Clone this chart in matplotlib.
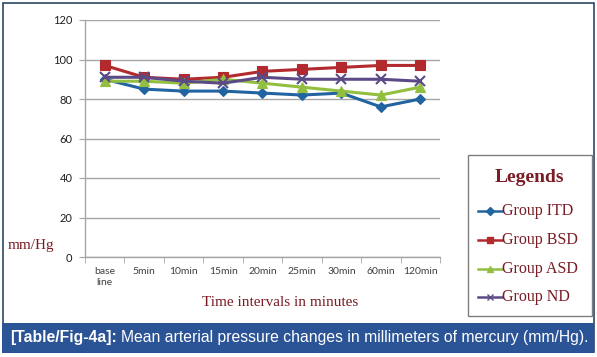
import matplotlib
matplotlib.use("Agg")
import matplotlib.pyplot as plt
from matplotlib.lines import Line2D
from matplotlib.patches import Rectangle

categories = ["base\nline", "5min", "10min", "15min", "20min", "25min", "30min", "60min", "120min"]
itd = [90, 85, 84, 84, 83, 82, 83, 76, 80]
bsd = [97, 91, 90, 91, 94, 95, 96, 97, 97]
asd = [89, 89, 88, 90, 88, 86, 84, 82, 86]
nd = [91, 91, 89, 88, 91, 90, 90, 90, 89]
series_names = ["Group ITD", "Group BSD", "Group ASD", "Group ND"]
yticks = [0, 20, 40, 60, 80, 100, 120]

W, H = 597, 357
fig = plt.figure(figsize=(W / 100, H / 100), dpi=100)

def px(x0, y0, x1, y1):
    return [x0 / W, 1 - y1 / H, (x1 - x0) / W, (y1 - y0) / H]

def fx(xp):
    return xp / W

def fy(yp):
    return 1 - yp / H

ax = fig.add_axes(px(85, 20, 440, 257))
x = list(range(len(categories)))
colors = ["#22649f", "#b22a2e", "#92bf3f", "#5b4a86"]
markers = ["D", "s", "^", "x"]
msizes = [5, 7, 6.5, 6.5]
data = [itd, bsd, asd, nd]
for vals, c, m, ms, name in zip(data, colors, markers, msizes, series_names):
    ax.plot(x, vals, color=c, marker=m, markersize=ms, linewidth=2.2,
            markeredgewidth=1.5 if m == "x" else 0.8, markeredgecolor=c,
            label=name, zorder=3)

ax.set_xlim(-0.5, len(categories) - 0.5)
ax.set_ylim(0, 120)
ax.set_yticks(yticks)
ax.yaxis.grid(True, color="#a6a6a6", linewidth=1.0)
ax.set_axisbelow(True)
for s in ["top", "right"]:
    ax.spines[s].set_visible(False)
for s in ["left", "bottom"]:
    ax.spines[s].set_color("#a6a6a6")
    ax.spines[s].set_linewidth(1.0)
ax.set_xticks(x)
ax.set_xticklabels(categories, fontfamily="Lato", fontsize=7.5, color="#404040", linespacing=1.35)
ax.set_xticks([i - 0.5 for i in range(len(categories) + 1)], minor=True)
ax.tick_params(axis="x", which="major", length=0, pad=7)
ax.tick_params(axis="x", which="minor", length=4, color="#a6a6a6", direction="out")
ax.tick_params(axis="y", length=4, color="#a6a6a6", labelsize=8, labelcolor="#202020", pad=5)
for t in ax.get_yticklabels():
    t.set_fontfamily("Lato")

red = "#7a1c24"
fig.text(fx(31), fy(245), "mm/Hg", fontfamily="Liberation Serif", fontsize=11,
         color=red, ha="center", va="center")
fig.text(fx(280), fy(303), "Time intervals in minutes", fontfamily="Liberation Serif",
         fontsize=11, color=red, ha="center", va="center")

# legend (drawn manually for exact placement)
fig.patches.append(Rectangle((fx(467.5), fy(316)), (591.5 - 467.5) / W, (316 - 155) / H,
                             transform=fig.transFigure, facecolor="white",
                             edgecolor="#7f7f7f", linewidth=1.0, zorder=2))
fig.text(fx(529), fy(177), "Legends", fontfamily="Liberation Serif", fontsize=14,
         fontweight="bold", color=red, ha="center", va="center", zorder=3)
entry_y = [211, 240, 269, 297]
for yy, c, m, ms, name in zip(entry_y, colors, markers, msizes, series_names):
    fig.add_artist(Line2D([fx(478), fx(502)], [fy(yy), fy(yy)], transform=fig.transFigure,
                          color=c, linewidth=1.8, zorder=3))
    fig.add_artist(Line2D([fx(490)], [fy(yy)], transform=fig.transFigure, color=c,
                          marker=m, markersize=4.2, markeredgecolor=c,
                          markeredgewidth=1.0, linestyle="none", zorder=4))
    fig.text(fx(502), fy(yy), name, fontfamily="Liberation Serif", fontsize=11.5,
             color=red, ha="left", va="center", zorder=3)

# outer frame
fig.patches.append(Rectangle((fx(2.5), fy(352)), 591 / W, 349 / H, transform=fig.transFigure,
                             fill=False, edgecolor="#2c4868", linewidth=1.2, zorder=0))
# caption bar
fig.patches.append(Rectangle((fx(2), fy(352.5)), 592 / W, 29.5 / H, transform=fig.transFigure,
                             facecolor="#2b5497", edgecolor="none", zorder=1))
t1 = fig.text(fx(10), fy(337.5), "[Table/Fig-4a]:", fontfamily="Liberation Sans",
              fontsize=11.3, fontweight="bold", color="white", va="center", ha="left", zorder=2)
fig.canvas.draw()
bb = t1.get_window_extent()
fig.text((bb.x1 + 4) / W, fy(337.5),
         "Mean arterial pressure changes in millimeters of mercury (mm/Hg).",
         fontfamily="Liberation Sans", fontsize=11.3, color="white", va="center", ha="left", zorder=2)

fig.savefig("out.png", dpi=100)
